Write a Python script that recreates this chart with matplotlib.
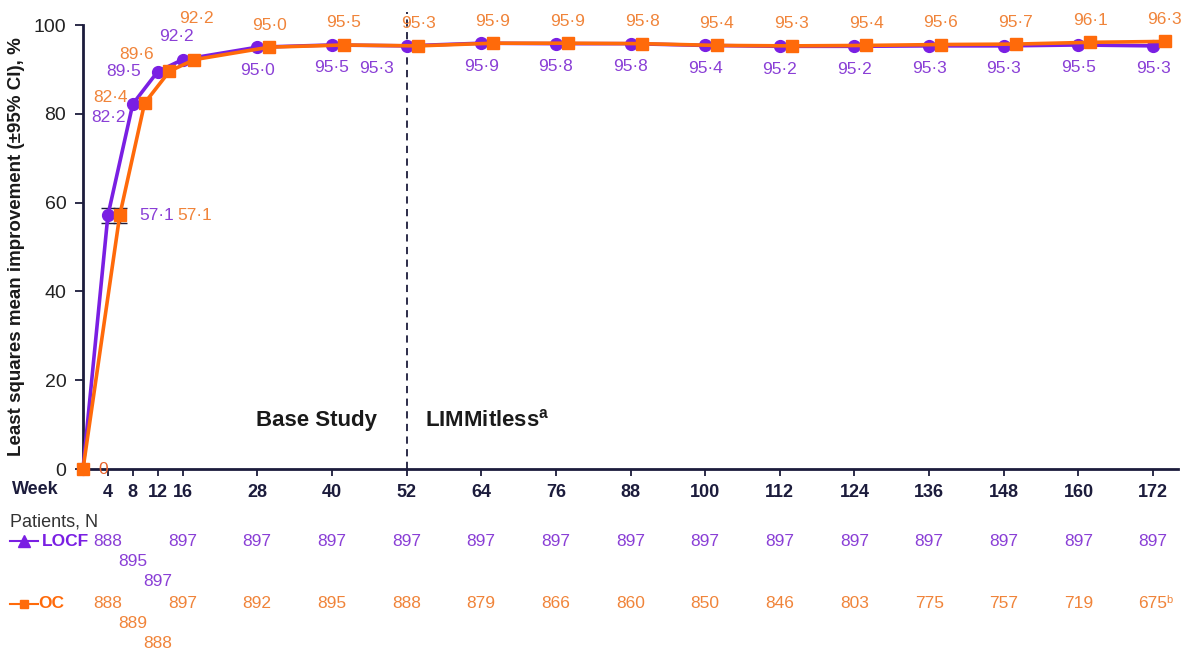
import numpy as np
import matplotlib.pyplot as plt
from matplotlib import font_manager

names = {f.name for f in font_manager.fontManager.ttflist}
narrow = 'Liberation Sans Narrow' if 'Liberation Sans Narrow' in names else 'Liberation Sans'
plt.rcParams['font.family'] = [narrow, 'DejaVu Sans']
plt.rcParams['mathtext.fontset'] = 'custom'
plt.rcParams['mathtext.rm'] = narrow
plt.rcParams['mathtext.bf'] = narrow + ':bold'

weeks = [0, 4, 8, 12, 16, 28, 40, 52, 64, 76, 88, 100, 112, 124, 136, 148, 160, 172]
locf = [0, 57.1, 82.2, 89.5, 92.2, 95.0, 95.5, 95.3, 95.9, 95.8, 95.8, 95.4, 95.2,
        95.2, 95.3, 95.3, 95.5, 95.3]
oc = [0, 57.1, 82.4, 89.6, 92.2, 95.0, 95.5, 95.3, 95.9, 95.9, 95.8, 95.4, 95.3,
      95.4, 95.6, 95.7, 96.1, 96.3]
# 95% CI half-width at week 4
ci_wk4 = 1.6

n_weeks = weeks[1:]
locf_n = [888, 895, 897, 897, 897, 897, 897, 897, 897, 897, 897, 897, 897, 897, 897, 897, 897]
oc_n = [888, 889, 888, 897, 892, 895, 888, 879, 866, 860, 850, 846, 803, 775, 757, 719, 675]

PURPLE = '#7a1fe3'
ORANGE = '#ff6a0a'
PTXT = '#8a3fd6'
OTXT = '#f0843a'
NAVY = '#1c1c3c'

fig = plt.figure(figsize=(12, 6.55), dpi=100)
ax = fig.add_axes([83 / 1200, 1 - 469 / 655, 1095 / 1200, 444 / 655])

# orange series is nudged right so both markers stay visible
wk = np.array(weeks, dtype=float)
dodge = np.where(wk > 0, 1.9, 0.0)

ax.plot(wk, locf, color=PURPLE, lw=2.6, marker='o', ms=8.5, zorder=3, clip_on=False)
ax.plot(wk + dodge, oc, color=ORANGE, lw=2.6, marker='s', ms=8.5, zorder=4, clip_on=False)
ax.errorbar([wk[1]], [locf[1]], yerr=ci_wk4, color=NAVY, lw=1, capsize=5, zorder=2)
ax.errorbar([wk[1] + dodge[1]], [oc[1]], yerr=ci_wk4, color=NAVY, lw=1, capsize=5, zorder=2)


def fmt(v):
    return ('%.1f' % v).replace('.', '·')


# label offsets in pixels (dx, dy, ha)
locf_off = {1: (31, 0, 'left'), 2: (-7, -13, 'right'), 3: (-17, 0, 'right'),
            4: (-6, 23, 'center'), 7: (-30, -23, 'center')}
oc_off = {1: (58, 0, 'left'), 2: (-17, 6, 'right'), 3: (-16, 17, 'right'),
          4: (2, 41, 'center')}

for i in range(1, len(weeks)):
    dx, dy, ha = locf_off.get(i, (0, -23, 'center'))
    ax.annotate(fmt(locf[i]), (wk[i], locf[i]), xytext=(dx, dy), textcoords='offset pixels',
                ha=ha, va='center', color=PTXT, fontsize=12.5, annotation_clip=False)
    dx, dy, ha = oc_off.get(i, (0, 22, 'center'))
    ax.annotate(fmt(oc[i]), (wk[i] + dodge[i], oc[i]), xytext=(dx, dy), textcoords='offset pixels',
                ha=ha, va='center', color=OTXT, fontsize=12.5, annotation_clip=False)
ax.annotate('0', (0, 0), xytext=(20, 0), textcoords='offset pixels', ha='center', va='center',
            color='#e8622a', fontsize=12.5, annotation_clip=False)

# split between base study and extension
ax.plot([52, 52], [0, 103], color=NAVY, lw=1.3, ls=(0, (4, 3)), clip_on=False, zorder=1)
ax.text(37.5, 11, 'Base Study', ha='center', va='center', fontsize=16, fontweight='bold', color='#1a1a1a')
ax.text(55, 11, r'LIMMitless$^{\mathbf{a}}$', ha='left', va='center', fontsize=16,
        fontweight='bold', color='#1a1a1a')

ax.set_xlim(0, 176)
ax.set_ylim(0, 100)
ax.set_xticks(n_weeks)
ax.set_xticklabels([str(w) for w in n_weeks], fontweight='bold', fontsize=13, color=NAVY)
ax.set_yticks(range(0, 101, 20))
ax.set_yticklabels([str(v) for v in range(0, 101, 20)], fontsize=14, color='#222222')
ax.tick_params(axis='x', length=5, width=1.3, color=NAVY, pad=6)
ax.tick_params(axis='y', length=6, width=1.3, color=NAVY, pad=6)
for s in ('top', 'right'):
    ax.spines[s].set_visible(False)
for s in ('left', 'bottom'):
    ax.spines[s].set_color(NAVY)
    ax.spines[s].set_linewidth(2)
ax.set_ylabel('Least squares mean improvement (±95% CI), %', fontsize=13.5, fontweight='bold',
              color='#1a1a1a', labelpad=6)

fig.text(12 / 1200, 1 - 490 / 655, 'Week', fontsize=13, fontweight='bold', color=NAVY, va='center')
fig.text(10 / 1200, 1 - 522 / 655, 'Patients, N', fontsize=13, color='#333333', va='center')

# patient count rows with small legend keys
rows = [(locf_n, 541, PTXT, PURPLE, '^', 'LOCF', 42), (oc_n, 604, OTXT, ORANGE, 's', 'OC', 38)]
for counts, ypx, tcol, lcol, mk, name, name_x in rows:
    yf = 1 - ypx / 655
    fig.add_artist(plt.Line2D([10 / 1200, 38 / 1200], [yf, yf], color=lcol, lw=1.5))
    fig.add_artist(plt.Line2D([24 / 1200], [yf], color=lcol, marker=mk, ms=8 if mk == '^' else 6,
                              lw=0))
    fig.text(name_x / 1200, yf, name, fontsize=12.5, fontweight='bold', color=lcol, va='center')
    for j, (w, n) in enumerate(zip(n_weeks, counts)):
        drop = 20 * j if 0 < j < 3 else 0
        ax.annotate(str(n), (w, 0), xycoords=('data', 'axes fraction'),
                    xytext=(0, -(ypx - 469) - drop), textcoords='offset pixels',
                    ha='center', va='center', color=tcol, fontsize=12.5, annotation_clip=False)
        if name == 'OC' and w == 172:
            ax.annotate('b', (w, 0), xycoords=('data', 'axes fraction'),
                        xytext=(13, -(ypx - 469) + 4), textcoords='offset pixels',
                        ha='left', va='center', color=tcol, fontsize=8, annotation_clip=False)

fig.savefig('out.png', dpi=100)
